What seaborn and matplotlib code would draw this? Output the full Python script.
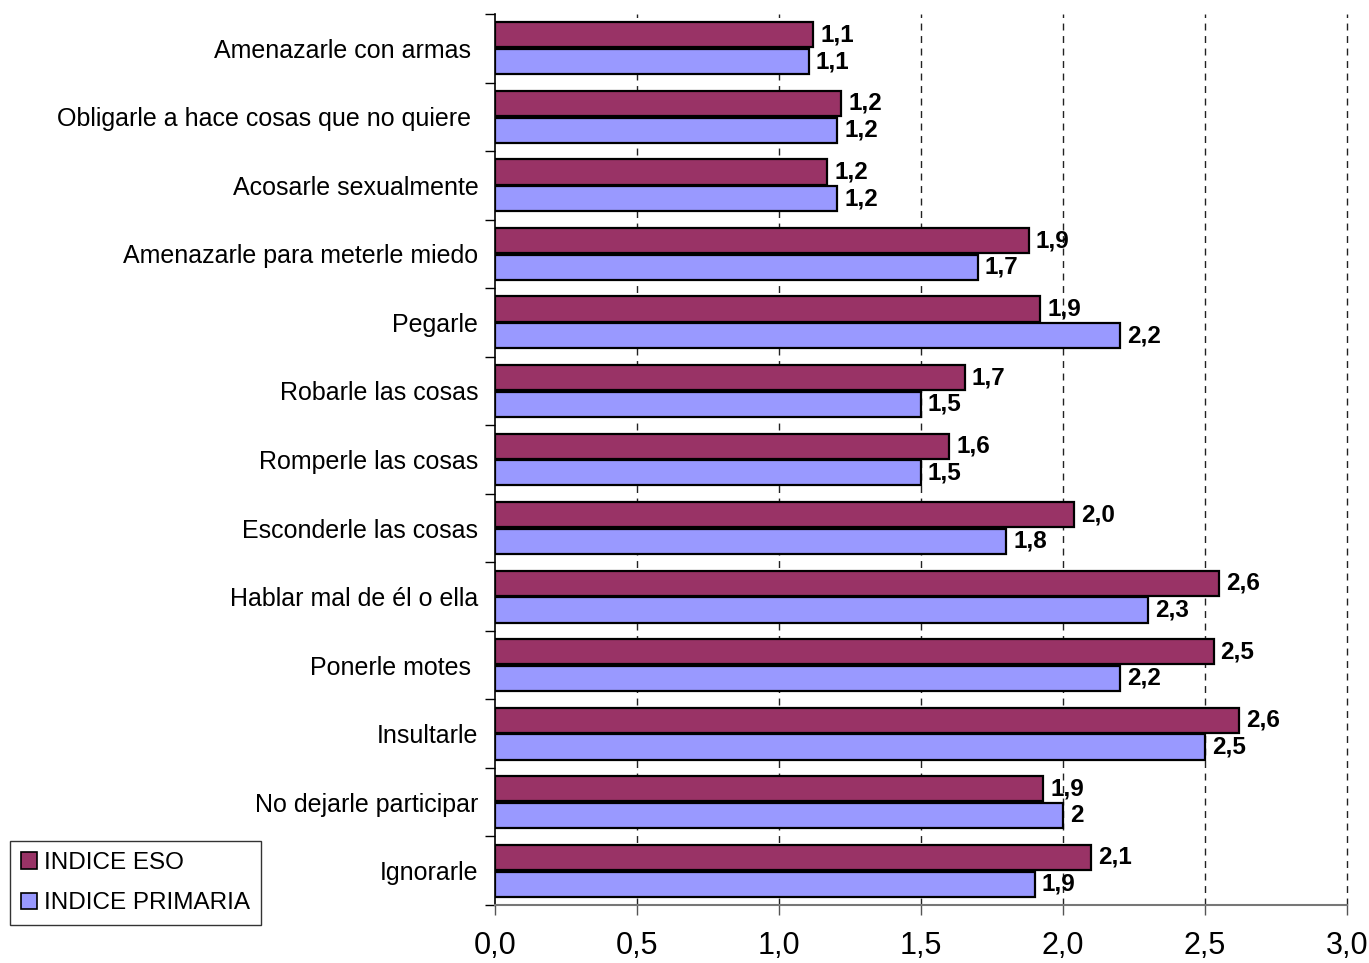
import matplotlib
matplotlib.use("Agg")
import matplotlib.pyplot as plt
import seaborn as sns
import pandas as pd
import numpy as np
from matplotlib.patches import Patch
from matplotlib.ticker import FixedLocator

categories = [
    "Amenazarle con armas ",
    "Obligarle a hace cosas que no quiere ",
    "Acosarle sexualmente",
    "Amenazarle para meterle miedo",
    "Pegarle",
    "Robarle las cosas",
    "Romperle las cosas",
    "Esconderle las cosas",
    "Hablar mal de él o ella",
    "Ponerle motes ",
    "Insultarle",
    "No dejarle participar",
    "Ignorarle",
]
eso = [1.12, 1.22, 1.17, 1.88, 1.92, 1.655, 1.60, 2.04, 2.55, 2.53, 2.62, 1.93, 2.10]
primaria = [1.105, 1.205, 1.205, 1.70, 2.20, 1.50, 1.50, 1.80, 2.30, 2.20, 2.50, 2.00, 1.90]
eso_labels = ["1,1", "1,2", "1,2", "1,9", "1,9", "1,7", "1,6", "2,0", "2,6", "2,5", "2,6", "1,9", "2,1"]
primaria_labels = ["1,1", "1,2", "1,2", "1,7", "2,2", "1,5", "1,5", "1,8", "2,3", "2,2", "2,5", "2", "1,9"]
series_names = ["INDICE ESO", "INDICE PRIMARIA"]
xticks = [0.0, 0.5, 1.0, 1.5, 2.0, 2.5, 3.0]
xtick_labels = ["0,0", "0,5", "1,0", "1,5", "2,0", "2,5", "3,0"]

colors = ["#993366", "#9999FF"]

df = pd.DataFrame({
    "cat": categories * 2,
    "val": eso + primaria,
    "serie": [series_names[0]] * len(categories) + [series_names[1]] * len(categories),
})

sns.set_style("white")
plt.rcParams['font.family'] = ['Liberation Sans', 'DejaVu Sans']
plt.rcParams['text.color'] = 'black'
plt.rcParams['xtick.color'] = 'black'
plt.rcParams['ytick.color'] = 'black'

fig = plt.figure(figsize=(13.69, 9.63), dpi=100)
ax = fig.add_axes([495 / 1369, 1 - 905 / 963, (1347 - 495) / 1369, (905 - 14) / 963])

sns.barplot(data=df, y="cat", x="val", hue="serie", order=categories,
            hue_order=series_names, palette=colors, orient="h",
            width=0.78, gap=0.06, edgecolor="black", linewidth=1.6,
            saturation=1, legend=False, ax=ax, zorder=3)

ax.set_xlim(0, 3.0)
ax.set_ylim(len(categories) - 0.5, -0.5)

# gridlines
for xv in xticks[1:]:
    ax.axvline(xv, color="#222222", linestyle=(0, (5, 4)), linewidth=1.0,
               zorder=1, clip_on=False)

# value labels
for cont, labs in zip(ax.containers, [eso_labels, primaria_labels]):
    ax.bar_label(cont, labels=labs, padding=5, fontsize=17.5, fontweight="bold",
                 color="black", zorder=5)

ax.set_xticks(xticks)
ax.set_xticklabels(xtick_labels, fontsize=22, color="black")
ax.tick_params(axis="x", direction="out", length=7, width=1, color="#555555", pad=12, bottom=True)

ax.set_yticks(range(len(categories)))
ax.set_yticklabels(categories, fontsize=18, color="black")
ax.tick_params(axis="y", which="major", length=0, pad=12)
ax.yaxis.set_minor_locator(FixedLocator(np.arange(-0.5, len(categories), 1.0)))
ax.tick_params(axis="y", which="minor", direction="out", length=7, width=1, color="black", left=True)

ax.set_xlabel("")
ax.set_ylabel("")
for s in ["top", "right"]:
    ax.spines[s].set_visible(False)
ax.spines["left"].set_color("black")
ax.spines["left"].set_linewidth(1.2)
ax.spines["bottom"].set_color("#777777")
ax.spines["bottom"].set_linewidth(1.5)

handles = [Patch(facecolor=c, edgecolor="black", linewidth=1.2) for c in colors]
leg = fig.legend(handles, series_names, loc="upper left",
                 bbox_to_anchor=(10 / 1369, 1 - 841 / 963), fontsize=17.5,
                 frameon=True, fancybox=False, edgecolor="black",
                 handlelength=0.65, handleheight=0.65, handletextpad=0.3,
                 labelspacing=0.75, borderpad=0.45, borderaxespad=0,
                 labelcolor="black")
leg.get_frame().set_linewidth(1.0)

fig.savefig("out.png", dpi=100)
